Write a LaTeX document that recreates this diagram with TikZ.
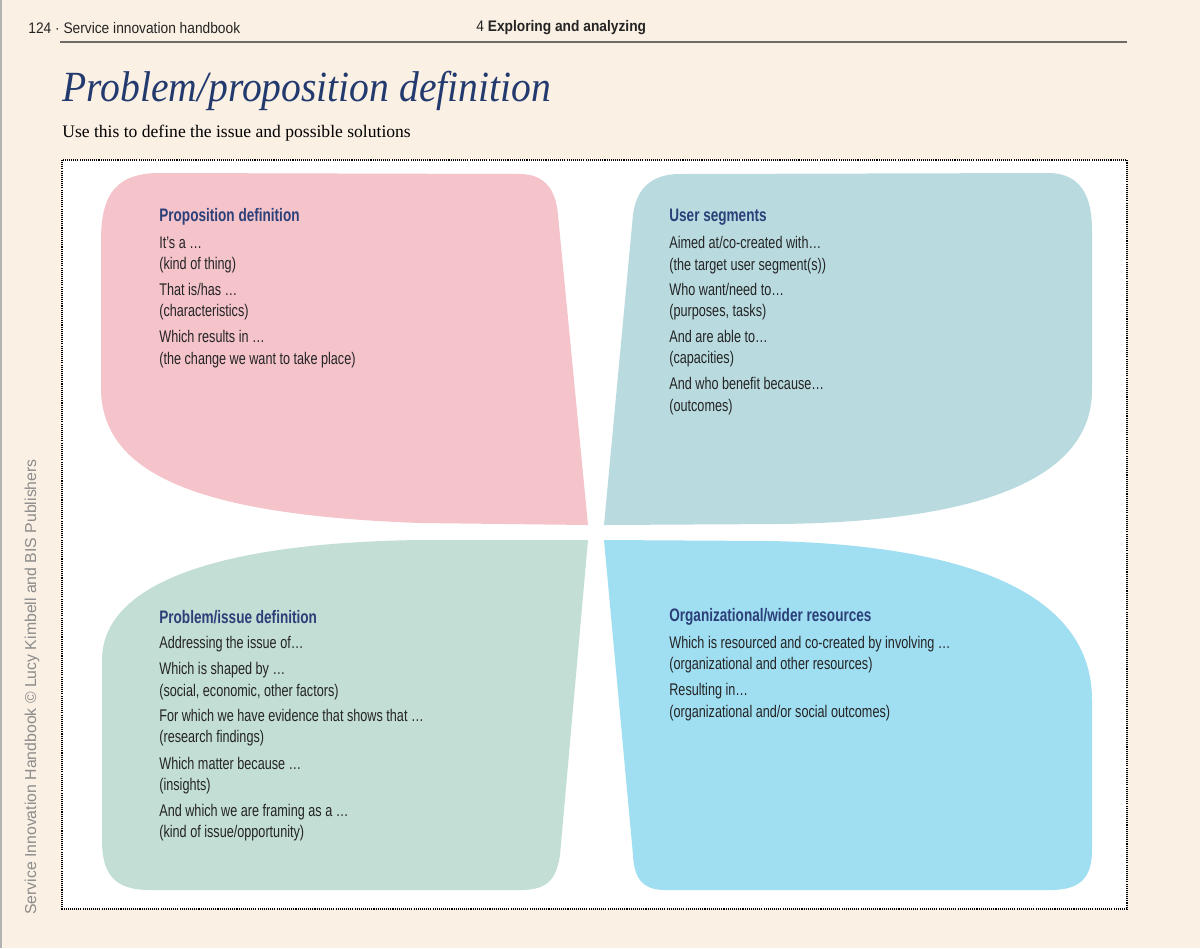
\documentclass[tikz,border=0pt]{standalone}
\usepackage{fontspec}
\setmainfont{Liberation Serif}
\newfontfamily\condfont[FakeStretch=0.75]{Liberation Sans}
\newfontfamily\runfont[FakeStretch=0.9]{Liberation Sans}
\newfontfamily\sidefont{Liberation Sans}
\newfontfamily\titlefont[FakeStretch=0.92]{Liberation Serif}
\definecolor{pagecream}{HTML}{FAF0E4}
\definecolor{pinkfill}{HTML}{F5C4CB}
\definecolor{tealfill}{HTML}{B9DBE0}
\definecolor{greenfill}{HTML}{C3DED4}
\definecolor{bluefill}{HTML}{A0DEF2}
\definecolor{titleblue}{HTML}{233A6E}
\definecolor{headblue}{HTML}{2B3F78}
\definecolor{bodygray}{HTML}{242424}
\definecolor{sidegray}{HTML}{8C8C8C}
\definecolor{rulegray}{HTML}{6E6A66}

\begin{document}
\begin{tikzpicture}[x=0.02cm, y=-0.02cm,
  boxhead/.style={anchor=west, inner sep=0pt, text=headblue,
    font=\condfont\bfseries\fontsize{10.3}{12}\selectfont},
  boxline/.style={anchor=west, inner sep=0pt, align=left, text=bodygray,
    font=\condfont\fontsize{9.6}{12.3}\selectfont}]
\fill[pagecream] (0,0) rectangle (1200,948);
\useasboundingbox (0,0) rectangle (1200,948);
\draw[gray!60, line width=0.6pt] (1,0) -- (1,948);

\node[anchor=west, inner sep=0pt, text=bodygray, font=\runfont\fontsize{8.7}{10}\selectfont]
  (runleft) at (28,28) {124 · Service innovation handbook};
\node[anchor=west, inner sep=0pt, text=bodygray, font=\runfont\fontsize{8.7}{10}\selectfont]
  (runright) at (476,28) {4 \textbf{Exploring and analyzing}};
\coordinate (ruleA) at (60,42);
\coordinate (ruleB) at (1127,42);
\draw[rulegray, line width=0.7pt] (ruleA) -- (ruleB);

\node[anchor=base west, inner sep=0pt, text=titleblue, font=\titlefont\itshape\fontsize{24.5}{28}\selectfont]
  (title) at (62,101) {Problem/proposition definition};
\node[anchor=base west, inner sep=0pt, font=\fontsize{10}{12}\selectfont]
  (subtitle) at (62,137) {Use this to define the issue and possible solutions};

\node[rotate=90, inner sep=0pt, text=sidegray, font=\sidefont\fontsize{9}{11}\selectfont]
  (sideline) at (32,687) {Service Innovation Handbook © Lucy Kimbell and BIS Publishers};

\filldraw[fill=white, draw=black, line width=0.65pt, dash pattern=on 0.6pt off 0.6pt]
  (62,160) rectangle (1127,909);

\fill[pinkfill] (160,173) -- (522,174) .. controls (545,175) and (556,190) .. (558,215)
  -- (588,525) -- (420,523) .. controls (200,515) and (103,475) .. (101,390)
  -- (101,240) .. controls (101,192) and (118,173) .. (160,173) -- cycle;
\fill[tealfill] (604,525) -- (633,215) .. controls (636,190) and (650,174) .. (680,174)
  -- (1050,173) .. controls (1080,174) and (1092,195) .. (1092,230)
  -- (1092,390) .. controls (1092,490) and (950,522) .. (780,524) -- cycle;
\fill[greenfill] (588,540) -- (560,855) .. controls (556,882) and (545,890) .. (520,890)
  -- (150,890) .. controls (115,890) and (102,875) .. (102,840)
  -- (102,660) .. controls (102,590) and (200,543) .. (420,540) -- cycle;
\fill[bluefill] (604,540) -- (770,541) .. controls (960,545) and (1092,590) .. (1092,700)
  -- (1092,850) .. controls (1092,880) and (1078,890) .. (1050,890)
  -- (665,890) .. controls (640,890) and (634,875) .. (633,855) -- cycle;

\node[boxhead] (propHead) at (159,217) {Proposition definition};
\node[boxline] (propA) at (159,255) {It’s a …\\(kind of thing)};
\node[boxline] (propB) at (159,301.5) {That is/has …\\(characteristics)};
\node[boxline] (propC) at (159,349) {Which results in …\\(the change we want to take place)};

\node[boxhead] (userHead) at (669,217) {User segments};
\node[boxline] (userA) at (669,255) {Aimed at/co-created with…\\(the target user segment(s))};
\node[boxline] (userB) at (669,301.5) {Who want/need to…\\(purposes, tasks)};
\node[boxline] (userC) at (669,348.5) {And are able to…\\(capacities)};
\node[boxline] (userD) at (669,396) {And who benefit because…\\(outcomes)};

\node[boxhead] (probHead) at (159,617) {Problem/issue definition};
\node[boxline] (probA) at (159,644) {Addressing the issue of…};
\node[boxline] (probB) at (159,681) {Which is shaped by …\\(social, economic, other factors)};
\node[boxline] (probC) at (159,727.5) {For which we have evidence that shows that …\\(research findings)};
\node[boxline] (probD) at (159,775.5) {Which matter because …\\(insights)};
\node[boxline] (probE) at (159,822.5) {And which we are framing as a …\\(kind of issue/opportunity)};

\node[boxhead] (resHead) at (669,617) {Organizational/wider resources};
\node[boxline] (resA) at (669,654.5) {Which is resourced and co-created by involving …\\(organizational and other resources)};
\node[boxline] (resB) at (669,702) {Resulting in…\\(organizational and/or social outcomes)};
\end{tikzpicture}
\end{document}
